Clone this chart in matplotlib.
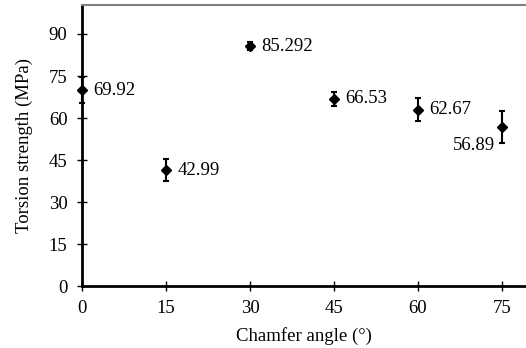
import numpy as np
import matplotlib.pyplot as plt

plt.rcParams['font.family'] = ['Liberation Serif', 'DejaVu Serif']

# data
angles = [0, 15, 30, 45, 60, 75]
strength = [69.92, 41.4, 85.7, 66.8, 62.9, 56.8]
errors = [4.6, 4.0, 1.4, 2.6, 4.1, 5.7]
labels = ['69.92', '42.99', '85.292', '66.53', '62.67', '56.89']
xticks = [0, 15, 30, 45, 60, 75]
yticks = [0, 15, 30, 45, 60, 75, 90]

fig = plt.figure(figsize=(5.26, 3.48), dpi=100)
ax = fig.add_axes([0.156, 0.178, 0.844, 0.808])

eb = ax.errorbar(angles, strength, yerr=errors, fmt='D', color='black', ms=5,
                 elinewidth=1.5, capsize=2.5, capthick=1.5)
for art in eb.lines[0:1] + tuple(eb.lines[1]) + tuple(eb.lines[2]):
    art.set_clip_on(False)

# value labels
for i, (x, y, t) in enumerate(zip(angles, strength, labels)):
    if i == len(angles) - 1:
        ax.annotate(t, (x, y), xytext=(-5, -13), textcoords='offset points',
                    ha='right', va='center', fontsize=13.5)
    else:
        ax.annotate(t, (x, y), xytext=(8, 0), textcoords='offset points',
                    ha='left', va='center', fontsize=13.5)

ax.set_xlim(0, 79.3)
ax.set_ylim(0, 100.4)
ax.set_xticks(xticks)
ax.set_yticks(yticks)
ax.tick_params(direction='inout', length=7, width=1, labelsize=13.5)
ax.tick_params(axis='y', pad=7)
ax.tick_params(axis='x', pad=6.5)
ax.set_xlabel('Chamfer angle (°)', fontsize=13.5, labelpad=7)
ax.set_ylabel('Torsion strength (MPa)', fontsize=13.5, labelpad=11)

ax.spines['left'].set_linewidth(2)
ax.spines['bottom'].set_linewidth(2)
ax.spines['top'].set_color('gray')
ax.spines['top'].set_linewidth(1.5)
ax.spines['right'].set_visible(False)
for s in ax.spines.values():
    s.set_clip_on(False)

fig.savefig('out.png', dpi=100)
